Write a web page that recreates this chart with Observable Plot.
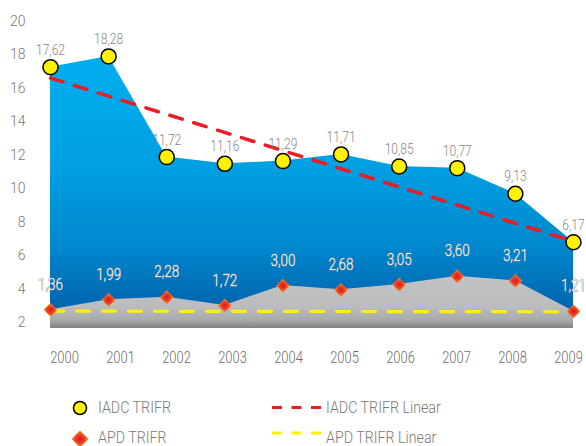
<!DOCTYPE html>
<html>
<head>
<meta charset="utf-8">
<script src="https://cdn.jsdelivr.net/npm/d3@7"></script>
<script src="https://cdn.jsdelivr.net/npm/@observablehq/plot@0.6"></script>
<style>
  html, body { margin: 0; padding: 0; background: #fff; }
  #wrap { position: relative; width: 586px; height: 446px; overflow: hidden; font-family: Roboto, "Noto Sans", sans-serif; }
  #wrap svg { display: block; }
  #wrap svg.overlay { position: absolute; left: 0; top: 0; background: transparent !important; }
  #wrap text { font-weight: 300; }
</style>
</head>
<body>
<div id="wrap"></div>
<script>
// ---- data ----
const years = [2000, 2001, 2002, 2003, 2004, 2005, 2006, 2007, 2008, 2009];
const iadcLabels = ["17,62", "18,28", "11,72", "11,16", "11,29", "11,71", "10,85", "10,77", "9,13", "6,17"];
// plotted positions as read against the drawn axis
const iadcValues = [17.27, 17.91, 11.89, 11.49, 11.65, 12.05, 11.33, 11.23, 9.70, 6.80];
const apdLabels = ["1,36", "1,99", "2,28", "1,72", "3,00", "2,68", "3,05", "3,60", "3,21", "1,21"];
const apdValues = [2.76, 3.36, 3.51, 3.02, 4.21, 3.95, 4.27, 4.77, 4.49, 2.67];
const trendYears = [2000, 2009];
const iadcTrend = [16.62, 6.85];
const apdTrend = [2.68, 2.64];
const yTicks = [2, 4, 6, 8, 10, 12, 14, 16, 18, 20];
const baseline = 1.64;

const font = "Roboto, 'Noto Sans', sans-serif";

const data = years.map((year, i) => ({
  year, iadc: iadcValues[i], iadcLabel: iadcLabels[i], apd: apdValues[i], apdLabel: apdLabels[i]
}));
const trend = trendYears.map((year, i) => ({ year, iadc: iadcTrend[i], apd: apdTrend[i] }));

const chart = Plot.plot({
  width: 586,
  height: 370,
  marginLeft: 50,
  marginRight: 13,
  marginTop: 21,
  marginBottom: 42,
  style: { fontFamily: font, fontSize: "14px", color: "#7a7a7a", background: "#fff" },
  x: { domain: [2000, 2009], axis: null },
  y: { domain: [baseline, 20] },
  marks: [
    Plot.areaY(data, { x: "year", y1: baseline, y2: "iadc", fill: "url(#blueGrad)" }),
    Plot.areaY(data, { x: "year", y1: baseline, y2: "apd", fill: "url(#grayGrad)" }),
    Plot.lineY(trend, { x: "year", y: "apd", stroke: "#fff200", strokeWidth: 3.2, strokeDasharray: "13,13" }),
    Plot.lineY(trend, { x: "year", y: "iadc", stroke: "#ed1c24", strokeWidth: 3.5, strokeDasharray: "13,12" }),
    Plot.dot(data, { x: "year", y: "apd", symbol: "diamond2", r: 6.2, fill: "url(#diamondGrad)" }),
    Plot.dot(data, { x: "year", y: "iadc", r: 7.5, fill: "#fff200", stroke: "#000", strokeWidth: 1.5 }),
    Plot.text(data, { x: "year", y: "iadc", text: "iadcLabel", dy: -17, fill: "#868686", fontSize: 14, fontWeight: 300, className: "cond-iadc" }),
    Plot.text(data, { x: "year", y: "apd", text: "apdLabel", dy: -25, fill: "#f4f4f4", stroke: "#8c8c8c", strokeWidth: 0.8, paintOrder: "stroke", fontSize: 16, fontWeight: 300, className: "cond-apd" }),
    Plot.axisY({ ticks: yTicks, tickSize: 0, tickPadding: 25, fill: "#7a7a7a", fontSize: 14, fontWeight: 300, label: null })
  ]
});

// gradients
const defs = d3.select(chart).insert("defs", ":first-child");
const bg = defs.append("linearGradient").attr("id", "blueGrad").attr("x1", 0).attr("y1", 0).attr("x2", 0).attr("y2", 1);
[[0, "#00aeef"], [0.4, "#00a0e3"], [0.7, "#0088cd"], [0.9, "#0068b2"], [1, "#005a9f"]]
  .forEach(([o, c]) => bg.append("stop").attr("offset", o).attr("stop-color", c));
const gg = defs.append("linearGradient").attr("id", "grayGrad").attr("x1", 0).attr("y1", 0).attr("x2", 0).attr("y2", 1);
[[0, "#c2c3c5"], [0.6, "#bbbcbe"], [0.85, "#a8a9ab"], [1, "#808183"]]
  .forEach(([o, c]) => gg.append("stop").attr("offset", o).attr("stop-color", c));
const dg = defs.append("radialGradient").attr("id", "diamondGrad");
[[0, "#e3151f"], [0.45, "#ea3a24"], [1, "#f7941d"]]
  .forEach(([o, c]) => dg.append("stop").attr("offset", o).attr("stop-color", c));

// category axis (labels evenly spaced as in the reference)
const axisChart = Plot.plot({
  width: 586,
  height: 370,
  marginLeft: 62,
  marginRight: 17,
  marginTop: 21,
  marginBottom: 42,
  style: { background: "transparent", fontFamily: font },
  x: { type: "point", domain: years, padding: 0 },
  y: { axis: null, domain: [baseline, 20] },
  marks: [
    Plot.axisX({ tickSize: 0, tickPadding: 22, fill: "#6e6e6e", fontSize: 17, fontWeight: 300, tickFormat: d => String(d), label: null, className: "cond-x" })
  ]
});
axisChart.classList.add("overlay");

const wrap = document.getElementById("wrap");
wrap.appendChild(chart);
wrap.appendChild(axisChart);

// legend below the chart
const leg = d3.select(wrap).append("svg").attr("width", 586).attr("height", 76);
const ldefs = leg.append("defs");
const ldg = ldefs.append("radialGradient").attr("id", "legDiamond");
[[0, "#e3151f"], [0.45, "#ea3a24"], [1, "#f7941d"]]
  .forEach(([o, c]) => ldg.append("stop").attr("offset", o).attr("stop-color", c));
leg.append("circle").attr("cx", 80).attr("cy", 38).attr("r", 6.5).attr("fill", "#fff200").attr("stroke", "#000").attr("stroke-width", 1.5);
leg.append("path").attr("d", "M80,60.5L88.5,69L80,77.5L71.5,69Z").attr("fill", "url(#legDiamond)");
leg.append("line").attr("x1", 272).attr("x2", 321).attr("y1", 37.5).attr("y2", 37.5).attr("stroke", "#ed1c24").attr("stroke-width", 3).attr("stroke-dasharray", "10,9.5");
leg.append("line").attr("x1", 272).attr("x2", 321).attr("y1", 63).attr("y2", 63).attr("stroke", "#fff200").attr("stroke-width", 3).attr("stroke-dasharray", "10,9.5");
const legText = [["IADC TRIFR", 98, 39], ["APD TRIFR", 98, 69], ["IADC TRIFR Linear", 326, 39], ["APD TRIFR Linear", 326, 69]];
legText.forEach(([t, x, y]) => leg.append("text").attr("class", "cond-leg").attr("x", x).attr("y", y).attr("dominant-baseline", "middle")
  .attr("font-family", font).attr("font-size", 16).attr("fill", "#7a7a7a").text(t));

// narrow the glyphs to imitate the condensed typeface of the original
function condense(selector, factor) {
  document.querySelectorAll(selector).forEach(el => {
    const w = el.getComputedTextLength();
    if (w > 0) {
      el.setAttribute("textLength", (w * factor).toFixed(2));
      el.setAttribute("lengthAdjust", "spacingAndGlyphs");
    }
  });
}
condense(".cond-x text", 0.76);
condense(".cond-apd text", 0.84);
condense(".cond-iadc text", 0.86);
condense("text.cond-leg", 0.89);
</script>
</body>
</html>
